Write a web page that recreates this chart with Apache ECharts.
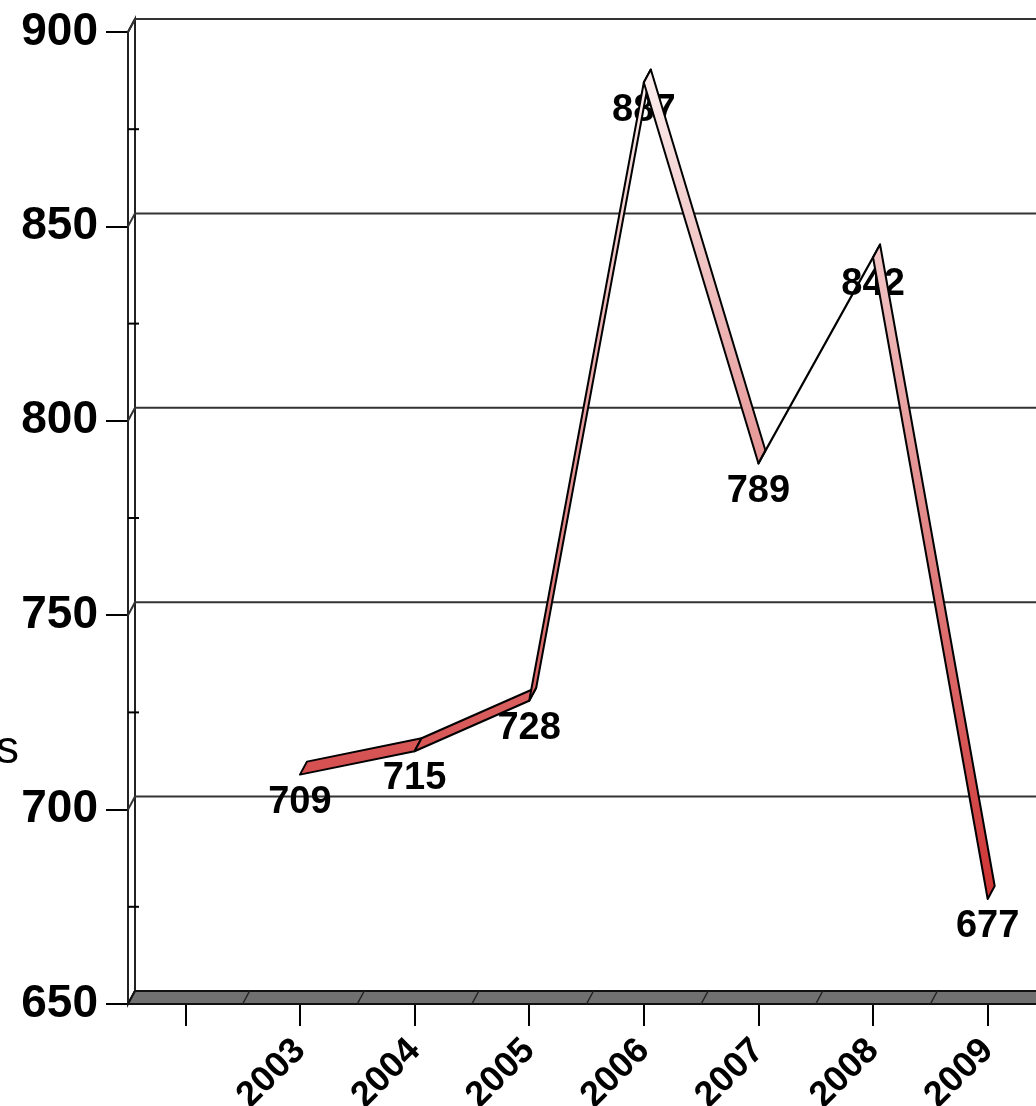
<!DOCTYPE html>
<html>
<head>
<meta charset="utf-8">
<script src="https://cdn.jsdelivr.net/npm/echarts@6/dist/echarts.min.js"></script>
<style>
  html, body { margin: 0; padding: 0; background: #fff; overflow: hidden; }
  #chart { width: 1070px; height: 1106px; }
</style>
</head>
<body>
<div id="chart"></div>
<script>
// data
const categories = ['', '2003', '2004', '2005', '2006', '2007', '2008', '2009']
const values = [null, 709, 715, 728, 887, 789, 842, 677]
const yMin = 650
const yMax = 900
const yStep = 50
const yName = 's'

const DEPTH = [7, -13] // 3d offset of the back plane
const FONT = 'Liberation Sans, Arial, sans-serif'

// segments of the ribbon: [x0, v0, x1, v1]
const segments = []
for (let i = 0; i < values.length - 1; i++) {
  if (values[i] != null && values[i + 1] != null) {
    segments.push([i, values[i], i + 1, values[i + 1]])
  }
}

const chart = echarts.init(document.getElementById('chart'))

const ribbonFill = new echarts.graphic.LinearGradient(0, 0, 0, 945, [
  { offset: 0, color: '#ffffff' },
  { offset: 1, color: '#cc2828' }
], true)

function renderFrame(params, api) {
  const bw = api.size([1, 0])[0]
  const c0 = api.coord([0, yMin])
  const left = c0[0] - bw / 2
  const bottom = c0[1]
  const top = api.coord([0, yMax])[1]
  const right = left + bw * categories.length + 60
  const dx = DEPTH[0]
  const dy = DEPTH[1]
  const children = []

  // left wall
  children.push({
    type: 'polygon',
    shape: { points: [[left, bottom], [left, top], [left + dx, top + dy], [left + dx, bottom + dy]] },
    style: { fill: '#fff', stroke: '#222', lineWidth: 2 }
  })
  // back gridlines
  for (let v = yMin; v <= yMax; v += yStep) {
    const y = api.coord([0, v])[1]
    children.push({
      type: 'polyline',
      shape: { points: [[left, y], [left + dx, y + dy], [right, y + dy]] },
      style: { stroke: '#333', lineWidth: 2, fill: null }
    })
  }
  // minor ticks on the wall
  for (let v = yMin + yStep / 2; v < yMax; v += yStep) {
    const y = api.coord([0, v])[1]
    children.push({
      type: 'line',
      shape: { x1: left, y1: y, x2: left + 11, y2: y },
      style: { stroke: '#000', lineWidth: 2 }
    })
  }
  // floor
  children.push({
    type: 'polygon',
    shape: { points: [[left, bottom], [right, bottom], [right + dx, bottom + dy], [left + dx, bottom + dy]] },
    style: { fill: '#707070', stroke: '#111', lineWidth: 2 }
  })
  for (let k = 1; k <= categories.length; k++) {
    const x = left + k * bw
    children.push({
      type: 'line',
      shape: { x1: x, y1: bottom, x2: x + dx, y2: bottom + dy },
      style: { stroke: '#222', lineWidth: 1.5 }
    })
  }
  return { type: 'group', children: children }
}

function renderRibbon(params, api) {
  const p0 = api.coord([api.value(0), api.value(1)])
  const p1 = api.coord([api.value(2), api.value(3)])
  const dx = DEPTH[0]
  const dy = DEPTH[1]
  return {
    type: 'polygon',
    shape: { points: [p0, p1, [p1[0] + dx, p1[1] + dy], [p0[0] + dx, p0[1] + dy]] },
    style: { fill: ribbonFill, stroke: '#000', lineWidth: 2, lineJoin: 'round' }
  }
}

chart.setOption({
  animation: false,
  grid: { left: 128, right: 25, top: 32, bottom: 102, containLabel: false, outerBoundsMode: 'none' },
  graphic: [{
    type: 'text',
    x: 19,
    y: 750,
    style: { text: yName, fontSize: 46, fontFamily: FONT, fill: '#000', align: 'right', verticalAlign: 'middle' }
  }],
  xAxis: {
    type: 'category',
    data: categories,
    boundaryGap: true,
    axisLine: { show: true, lineStyle: { color: '#000', width: 2 } },
    axisTick: { show: true, alignWithLabel: true, interval: 0, length: 22, lineStyle: { color: '#000', width: 2 } },
    axisLabel: { show: true, interval: 0, rotate: 45, margin: 41, color: '#000', fontSize: 36, fontWeight: 'bold', fontFamily: FONT },
    splitLine: { show: false }
  },
  yAxis: {
    type: 'value',
    min: yMin,
    max: yMax,
    interval: yStep,
    axisLine: { show: true, lineStyle: { color: '#000', width: 2 } },
    axisTick: { show: true, length: 22, lineStyle: { color: '#000', width: 2 } },
    axisLabel: { margin: 30, color: '#000', fontSize: 46, fontWeight: 'bold', fontFamily: FONT },
    splitLine: { show: false }
  },
  series: [
    {
      type: 'custom',
      z: 1,
      silent: true,
      renderItem: renderFrame,
      data: [[0, yMin]]
    },
    {
      type: 'line',
      z: 2,
      data: values,
      symbol: 'circle',
      symbolSize: 1,
      showSymbol: true,
      itemStyle: { color: 'rgba(0,0,0,0)' },
      lineStyle: { width: 0, opacity: 0 },
      label: {
        show: true,
        position: 'bottom',
        distance: 8,
        color: '#000',
        fontSize: 38,
        fontWeight: 'bold',
        fontFamily: FONT
      }
    },
    {
      type: 'custom',
      z: 3,
      renderItem: renderRibbon,
      encode: { x: [0, 2], y: [1, 3] },
      data: segments
    }
  ]
})
</script>
</body>
</html>
